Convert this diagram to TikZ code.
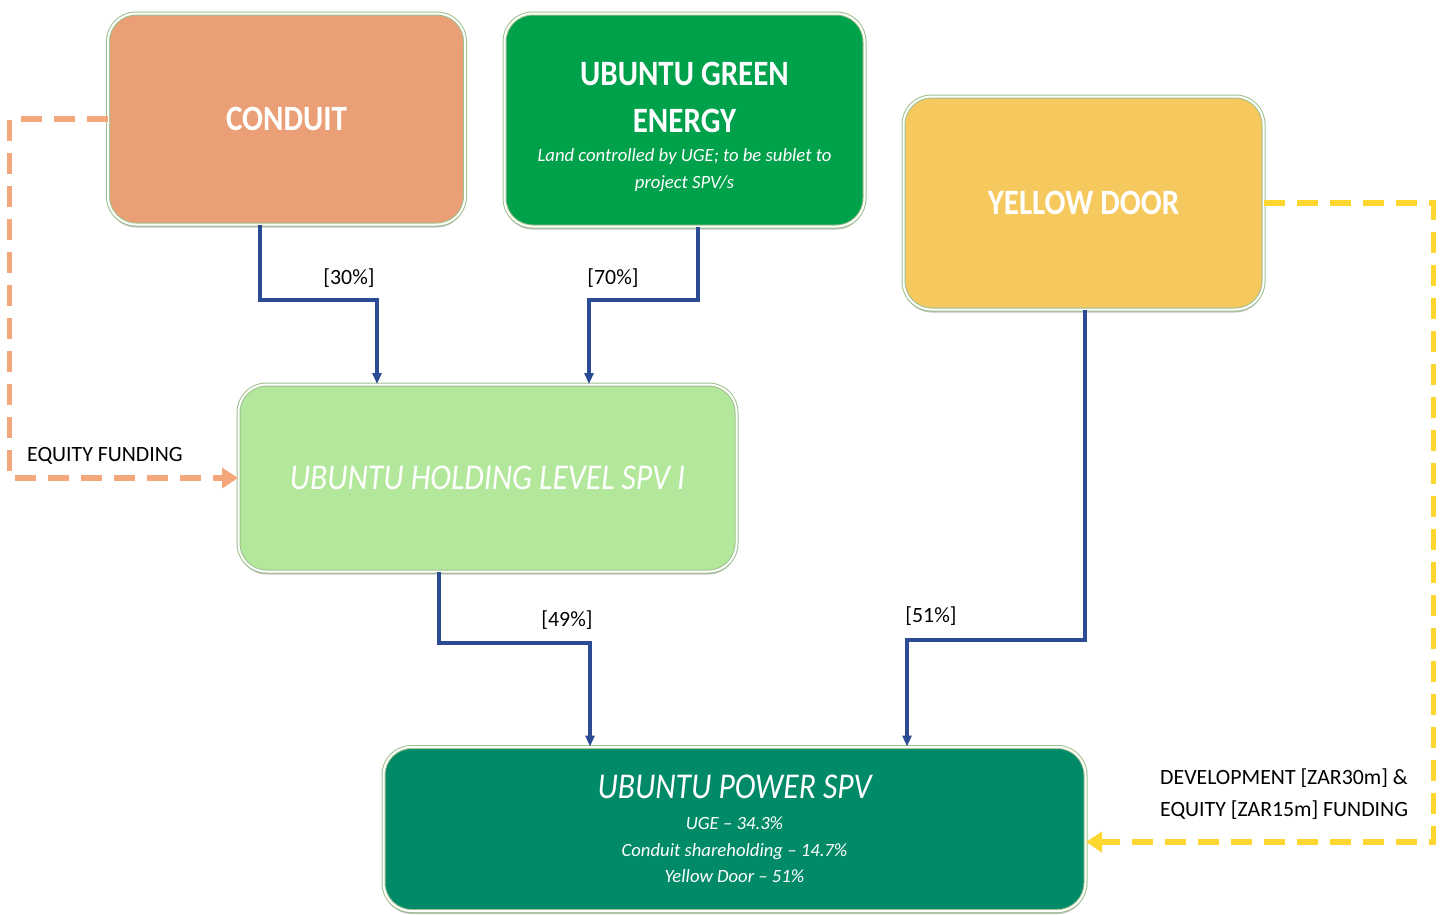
\documentclass[tikz,border=0pt]{standalone}
\usepackage{fontspec}
\setmainfont{Carlito}
\usetikzlibrary{arrows.meta,shadows}
\definecolor{cconduit}{HTML}{EB9F76}
\definecolor{cuge}{HTML}{00A14B}
\definecolor{cyd}{HTML}{F6C95F}
\definecolor{chold}{HTML}{B3E89C}
\definecolor{cpower}{HTML}{008A68}
\definecolor{cblue}{HTML}{2B4C94}
\definecolor{corange}{HTML}{F4A77A}
\definecolor{cyellow}{HTML}{FDD630}
\definecolor{cedge}{HTML}{9EC08C}
\tikzset{
  box/.style={rectangle, rounded corners=28pt, draw=cedge, line width=1pt,
    double=white, double distance=2pt, inner sep=0pt, text=white, align=center,
    drop shadow={shadow xshift=0pt, shadow yshift=-3pt, opacity=0.35, fill=black!70}},
  own/.style={draw=cblue, line width=3.5pt, -{Triangle[length=11pt,width=9pt]}},
  odash/.style={draw=corange, line width=5.5pt, dash pattern=on 21pt off 12pt, -{Triangle[length=16pt,width=20pt]}},
  ydash/.style={draw=cyellow, line width=5.5pt, dash pattern=on 21pt off 12pt, -{Triangle[length=16pt,width=20pt]}},
  pct/.style={font=\fontsize{21.8}{24}\selectfont, text=black, inner sep=0pt},
}
\newcommand{\bigt}[1]{\scalebox{1}[1.15]{\fontsize{31}{36}\selectfont\bfseries\upshape #1}}
\newcommand{\bigit}[1]{\scalebox{1}[1.15]{\fontsize{31.6}{38}\selectfont\itshape #1}}
\begin{document}
\begin{tikzpicture}[x=1pt,y=-1pt]
\useasboundingbox (0,0) rectangle (1441,914);
% boxes
\node[box, fill=cconduit, minimum width=357pt, minimum height=211pt] (conduit) at (286.5,119)
  {\bigt{CONDUIT}};
\node[box, fill=cuge, minimum width=360pt, minimum height=213pt,
      font=\fontsize{18.7}{27}\selectfont\itshape] (uge) at (684.5,120)
  {\rule{0pt}{37pt}\bigt{UBUNTU GREEN}\\[20pt] \bigt{ENERGY}\\[2pt]
   Land controlled by UGE; to be sublet to\\ project SPV/s};
\node[box, fill=cyd, minimum width=360pt, minimum height=213pt] (yd) at (1083.5,203)
  {\bigt{YELLOW DOOR}};
\node[box, fill=chold, minimum width=498pt, minimum height=187pt] (hold) at (487.5,478)
  {\bigit{UBUNTU HOLDING LEVEL SPV I}};
\node[box, fill=cpower, minimum width=702pt, minimum height=164pt,
      font=\fontsize{18.7}{26.5}\selectfont\itshape] (power) at (734.5,829)
  {\bigit{UBUNTU POWER SPV}\\[5pt]
   UGE -- 34.3\%\\ Conduit shareholding -- 14.7\%\\ Yellow Door -- 51\%};
% ownership connectors
\draw[own] ([xshift=-26.5pt]conduit.south) -- ++(0,75) -| ([xshift=-110.5pt]hold.north);
\draw[own] ([xshift=13.5pt]uge.south) -- ++(0,73) -| ([xshift=101.5pt]hold.north);
\draw[own] ([xshift=-48.5pt]hold.south) -- ++(0,71) -| ([xshift=-144.5pt]power.north);
\draw[own] ([xshift=1.5pt]yd.south) -- ++(0,330) -| ([xshift=172.5pt]power.north);
\node[pct] (l30) at (349,278) {[30\%]};
\node[pct] (l70) at (613,278) {[70\%]};
\node[pct] (l49) at (567,620) {[49\%]};
\node[pct] (l51) at (931,616) {[51\%]};
% funding connectors
\draw[odash] (conduit.west) -- ++(-98,0) |- (hold.west);
\node[pct, anchor=west] (leq) at (27,456) {EQUITY FUNDING};
\draw[ydash] (yd.east) -- ++(169.5,0) |- ([yshift=-13pt]power.east);
\node[pct, anchor=west, align=left, font=\fontsize{21.8}{32}\selectfont] (ldev) at (1160,794)
  {DEVELOPMENT [ZAR30m] \&\\ EQUITY [ZAR15m] FUNDING};
\end{tikzpicture}
\end{document}
